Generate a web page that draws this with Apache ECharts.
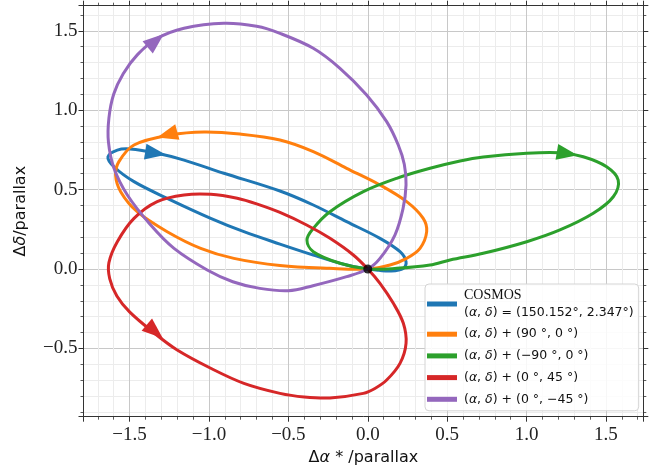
<!DOCTYPE html>
<html>
<head>
<meta charset="utf-8">
<script src="https://cdn.jsdelivr.net/npm/echarts@6/dist/echarts.min.js"></script>
<style>
  html, body { margin: 0; padding: 0; background: #ffffff; }
  #chart { width: 660px; height: 471px; }
</style>
</head>
<body>
<div id="chart"></div>
<script>
// Parallax ellipses: one year of apparent motion, [Δα*, Δδ] in units of parallax,
// listed in the order the source travels along each trace.
const cosmosTrace = [
  [0, 0], [-0.133, 0.025], [-0.343, 0.088], [-0.553, 0.157], [-0.780, 0.235], [-0.989, 0.319],
  [-1.263, 0.445], [-1.472, 0.550], [-1.598, 0.644], [-1.636, 0.707], [-1.577, 0.749], [-1.497, 0.756],
  [-1.326, 0.729], [-1.157, 0.686], [-0.906, 0.603], [-0.553, 0.491], [-0.343, 0.403], [-0.133, 0.298],
  [0.077, 0.193], [0.203, 0.109], [0.241, 0.046], [0.224, 0.004], [0.140, -0.013], [0.070, -0.008]
];
const plus90Trace = [
  [0, 0], [0.140, 0.025], [0.245, 0.067], [0.329, 0.130], [0.371, 0.235], [0.349, 0.319], [0.245, 0.424],
  [0.077, 0.529], [-0.133, 0.634], [-0.343, 0.739], [-0.553, 0.812], [-0.805, 0.850], [-1.031, 0.863],
  [-1.241, 0.844], [-1.472, 0.781], [-1.567, 0.676], [-1.588, 0.592], [-1.556, 0.487], [-1.452, 0.361],
  [-1.263, 0.235], [-1.052, 0.130], [-0.843, 0.067], [-0.553, 0.022], [-0.238, 0.004]
];
const minus90Trace = [
  [0, 0], [-0.175, 0.036], [-0.343, 0.109], [-0.383, 0.183], [-0.343, 0.256], [-0.238, 0.361],
  [-0.028, 0.487], [0.182, 0.571], [0.392, 0.634], [0.581, 0.680], [0.727, 0.705], [1.001, 0.729],
  [1.210, 0.732], [1.357, 0.707], [1.504, 0.644], [1.577, 0.560], [1.546, 0.455], [1.420, 0.351],
  [1.210, 0.246], [1.001, 0.172], [0.727, 0.099], [0.518, 0.057], [0.392, 0.025], [0.182, 0.004]
];
const decPlus45Trace = [
  [0, 0], [-0.091, 0.088], [-0.238, 0.193], [-0.385, 0.277], [-0.553, 0.356], [-0.700, 0.410],
  [-0.822, 0.445], [-0.989, 0.470], [-1.157, 0.466], [-1.326, 0.424], [-1.472, 0.319], [-1.577, 0.172],
  [-1.630, 0.040], [-1.625, -0.060], [-1.580, -0.170], [-1.500, -0.270], [-1.346, -0.402],
  [-1.200, -0.510], [-0.989, -0.625], [-0.780, -0.720], [-0.553, -0.783], [-0.400, -0.806],
  [-0.238, -0.812], [-0.028, -0.783], [0.045, -0.752], [0.119, -0.699], [0.203, -0.594], [0.241, -0.468],
  [0.224, -0.342], [0.161, -0.216], [0.077, -0.090]
];
const decMinus45Trace = [
  [0, 0], [-0.133, -0.048], [-0.345, -0.105], [-0.500, -0.137], [-0.680, -0.122], [-0.850, -0.080],
  [-1.011, -0.006], [-1.220, 0.130], [-1.367, 0.277], [-1.514, 0.466], [-1.598, 0.634], [-1.633, 0.800],
  [-1.630, 0.950], [-1.600, 1.100], [-1.540, 1.230], [-1.450, 1.350], [-1.330, 1.450], [-1.157, 1.516],
  [-0.906, 1.547], [-0.700, 1.528], [-0.553, 1.484], [-0.343, 1.390], [-0.175, 1.264], [-0.007, 1.096],
  [0.119, 0.928], [0.192, 0.781], [0.230, 0.660], [0.241, 0.530], [0.222, 0.380], [0.171, 0.214],
  [0.077, 0.067]
];

// Where each trace carries its direction arrow.
const arrowPositions = [
  [-1.336, 0.729], [-1.263, 0.845], [1.256, 0.727], [-1.341, -0.393], [-1.335, 1.438]
];

// Reference epoch: every trace starts and ends at the origin.
const originPoint = [[0, 0]];

const seriesNames = [
  'COSMOS (α,δ)=(150.152°,2.347°)',
  '(α,δ)+(90°,0°)',
  '(α,δ)+(−90°,0°)',
  '(α,δ)+(0°,45°)',
  '(α,δ)+(0°,−45°)'
];
const traces = [cosmosTrace, plus90Trace, minus90Trace, decPlus45Trace, decMinus45Trace];

// Axis range in parallax units.
const xRange = [-1.79, 1.735];
const yRange = [-0.93, 1.658];

const palette = ['#1f77b4', '#ff7f0e', '#2ca02c', '#d62728', '#9467bd'];

// Rich-text legend labels (italic α, δ).
const legendRich = {
  'COSMOS (α,δ)=(150.152°,2.347°)': '{cm|COSMOS}\n({i|α}, {i|δ}) = (150.152°, 2.347°)',
  '(α,δ)+(90°,0°)': '({i|α}, {i|δ}) + (90 °, 0 °)',
  '(α,δ)+(−90°,0°)': '({i|α}, {i|δ}) + (−90 °, 0 °)',
  '(α,δ)+(0°,45°)': '({i|α}, {i|δ}) + (0 °, 45 °)',
  '(α,δ)+(0°,−45°)': '({i|α}, {i|δ}) + (0 °, −45 °)'
};

const chart = echarts.init(document.getElementById('chart'), null, { renderer: 'canvas' });

const FRAME = '#333333';
const tickFont = 'Liberation Serif';
const sansFont = 'DejaVu Sans';

function fmtTick(v) {
  const s = Math.abs(v).toFixed(1);
  return v < -1e-9 ? '\u2212' + s : s;
}

function makeAxis(kind, position, range, splitNumber, withLabels) {
  const ax = {
    type: 'value',
    position: position,
    min: range[0],
    max: range[1],
    splitNumber: splitNumber,
    axisLine: { show: true, onZero: false, lineStyle: { color: FRAME, width: 1 } },
    axisTick: { show: true, inside: false, length: 5, lineStyle: { color: FRAME, width: 1 } },
    minorTick: { show: true, splitNumber: 5, length: 3, lineStyle: { color: FRAME, width: 0.8 } },
    axisLabel: { show: false },
    splitLine: { show: false },
    minorSplitLine: { show: false }
  };
  if (withLabels) {
    ax.axisLabel = {
      show: true,
      showMinLabel: false,
      showMaxLabel: false,
      fontFamily: tickFont,
      fontSize: 19,
      color: '#222222',
      margin: kind === 'x' ? 9 : 6,
      formatter: fmtTick
    };
    ax.splitLine = { show: true, lineStyle: { color: '#c8c8c8', width: 1 } };
    ax.minorSplitLine = { show: true, lineStyle: { color: '#ececec', width: 1 } };
  }
  return ax;
}

const nameStyle = {
  fontFamily: sansFont, fontSize: 16, color: '#111111',
  rich: { i: { fontFamily: sansFont, fontSize: 16, fontStyle: 'italic', color: '#111111' } }
};

const xBottom = makeAxis('x', 'bottom', xRange, 7, true);
xBottom.name = 'Δ{i|α} * /parallax';
xBottom.nameLocation = 'middle';
xBottom.nameGap = 30;
xBottom.nameTextStyle = nameStyle;
const xTop = makeAxis('x', 'top', xRange, 7, false);

const yLeft = makeAxis('y', 'left', yRange, 5, true);
yLeft.name = 'Δ{i|δ}/parallax';
yLeft.nameLocation = 'middle';
yLeft.nameRotate = 90;
yLeft.nameGap = 55;
yLeft.nameTextStyle = nameStyle;
const yRight = makeAxis('y', 'right', yRange, 5, false);

// Each trace is one closed, smoothed outline drawn through its points.
const traceSeries = traces.map((pts, i) => ({
  name: seriesNames[i],
  type: 'custom',
  coordinateSystem: 'cartesian2d',
  xAxisIndex: 0,
  yAxisIndex: 0,
  data: pts,
  encode: { x: 0, y: 1 },
  itemStyle: { color: palette[i] },
  z: 10 + 2 * i,
  silent: true,
  animation: false,
  renderItem: (params, api) => {
    if (params.dataIndex !== 0) return null;
    return {
      type: 'polygon',
      shape: { points: pts.map(p => api.coord(p)), smooth: 0.35 },
      style: { fill: 'none', stroke: palette[i], lineWidth: 3, lineJoin: 'round' }
    };
  }
}));

function buildOption(rotations) {
  const arrowSeries = arrowPositions.map((p, i) => ({
    type: 'scatter',
    xAxisIndex: 0,
    yAxisIndex: 0,
    data: [{ value: p, symbolRotate: rotations[i] }],
    symbol: 'triangle',
    symbolSize: [16, 21],
    itemStyle: { color: palette[i], opacity: 1 },
    z: 11 + 2 * i,
    animation: false,
    silent: true
  }));
  return {
    backgroundColor: '#ffffff',
    animation: false,
    grid: { left: 83.5, right: 16.7, top: 5.7, bottom: 54.3, outerBoundsMode: 'none', containLabel: false },
    xAxis: [xBottom, xTop],
    yAxis: [yLeft, yRight],
    legend: {
      show: true,
      data: seriesNames,
      orient: 'vertical',
      left: 425,
      top: 284,
      padding: [3, 5, 3, 2],
      itemGap: 4.7,
      itemWidth: 30,
      itemHeight: 5,
      icon: 'rect',
      backgroundColor: 'rgba(255,255,255,0.85)',
      borderColor: '#d4d4d4',
      borderWidth: 1,
      borderRadius: 4,
      selectedMode: false,
      formatter: name => legendRich[name],
      textStyle: {
        fontFamily: sansFont,
        fontSize: 12.5,
        lineHeight: 17,
        color: '#111111',
        padding: [0, 0, 0, 2],
        rich: {
          i: { fontFamily: sansFont, fontSize: 12.5, lineHeight: 17, fontStyle: 'italic', color: '#111111' },
          cm: { fontFamily: tickFont, fontSize: 14, lineHeight: 17, color: '#111111' }
        }
      }
    },
    series: traceSeries.concat(arrowSeries, [{
      type: 'scatter',
      xAxisIndex: 0,
      yAxisIndex: 0,
      data: originPoint,
      symbol: 'circle',
      symbolSize: 9,
      itemStyle: { color: '#000000' },
      z: 40,
      animation: false,
      silent: true
    }])
  };
}

chart.setOption(buildOption(arrowPositions.map(() => 0)));

// Point each arrow along its trace, measured in screen space.
function heading(pts, at) {
  const toPx = p => chart.convertToPixel({ xAxisIndex: 0, yAxisIndex: 0 }, p);
  const px = pts.map(toPx);
  const a = toPx(at);
  let best = Infinity, dir = [1, 0];
  for (let i = 0; i < px.length; i++) {
    const p = px[i], q = px[(i + 1) % px.length];
    const vx = q[0] - p[0], vy = q[1] - p[1];
    const L2 = vx * vx + vy * vy || 1;
    let t = ((a[0] - p[0]) * vx + (a[1] - p[1]) * vy) / L2;
    t = Math.max(0, Math.min(1, t));
    const dx = p[0] + t * vx - a[0], dy = p[1] + t * vy - a[1];
    const d = dx * dx + dy * dy;
    if (d < best) { best = d; dir = [vx, vy]; }
  }
  return Math.atan2(-dir[1], dir[0]) * 180 / Math.PI - 90;
}

chart.setOption(buildOption(arrowPositions.map((p, i) => heading(traces[i], p))));
</script>
</body>
</html>
